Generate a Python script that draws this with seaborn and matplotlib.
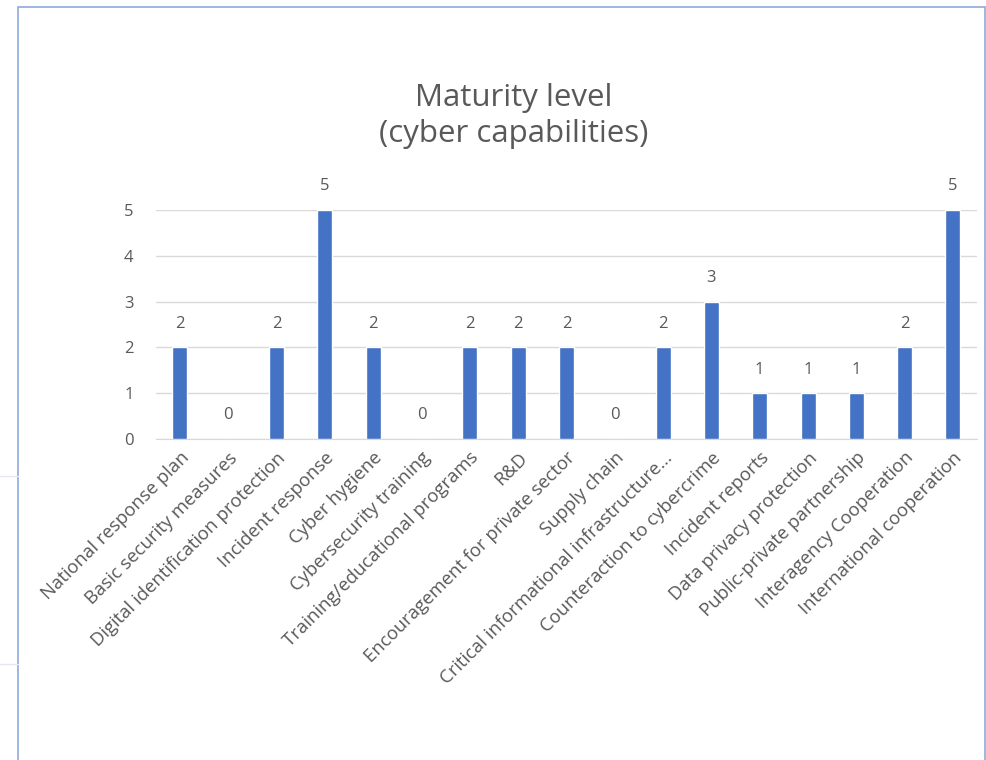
import matplotlib
matplotlib.use("Agg")
import matplotlib.pyplot as plt
import seaborn as sns
import pandas as pd
from matplotlib.patches import Rectangle
from matplotlib.lines import Line2D

# data
capabilities = [
    "National response plan", "Basic security measures", "Digital identification protection",
    "Incident response", "Cyber hygiene", "Cybersecurity training",
    "Training/educational programs", "R&D", "Encouragement for private sector",
    "Supply chain", "Critical informational infrastructure...", "Counteraction to cybercrime",
    "Incident reports", "Data privacy protection", "Public-private partnership",
    "Interagency Cooperation", "International cooperation",
]
levels = [2, 0, 2, 5, 2, 0, 2, 2, 2, 0, 2, 3, 1, 1, 1, 2, 5]

df = pd.DataFrame({"capability": capabilities, "level": levels})

sns.set_style("white")
plt.rcParams['font.family'] = ['Open Sans', 'DejaVu Sans']
grey = "#595959"

fig = plt.figure(figsize=(9.86, 7.6), dpi=100)
ax = fig.add_axes([0.158, 0.4224, 0.833, 0.3013])

sns.barplot(data=df, x="capability", y="level", color="#4472C4",
            width=0.31, saturation=1, ax=ax, zorder=3)

ax.set_ylim(0, 5)
ax.set_yticks(range(0, 6))
ax.grid(axis="y", color="#d9d9d9", linewidth=1, zorder=0)
for s in ["top", "right", "left"]:
    ax.spines[s].set_visible(False)
ax.spines["bottom"].set_color("#d9d9d9")
ax.tick_params(length=0, colors=grey)
ax.tick_params(axis="y", pad=16, labelsize=12)
ax.tick_params(axis="x", pad=7)
ax.set_xlabel("")
ax.set_ylabel("")
plt.setp(ax.get_xticklabels(), rotation=45, ha="right", va="top", rotation_mode="anchor",
         fontsize=13.3, color=grey)

for i, v in enumerate(levels):
    ax.annotate(str(v), (i, v), xytext=(0, 17), textcoords="offset points",
                ha="center", va="center", fontsize=12, color=grey, clip_on=False)

fig.text(0.521, 0.847, "Maturity level\n(cyber capabilities)", ha="center", va="center",
         fontsize=22.5, color=grey, linespacing=1.25)

# faint page decoration left of the frame
for yy in [476, 664]:
    fig.lines.append(Line2D([0, 18 / 986], [1 - yy / 760] * 2, transform=fig.transFigure,
                            color="#e6e8ef", linewidth=1))

# chart frame
fig.patches.append(Rectangle((18 / 986, -0.01), 967 / 986, 1 - 7 / 760 + 0.01,
                             transform=fig.transFigure, fill=False,
                             edgecolor="#8eaadb", linewidth=1.2))

fig.savefig("out.png", dpi=100)
